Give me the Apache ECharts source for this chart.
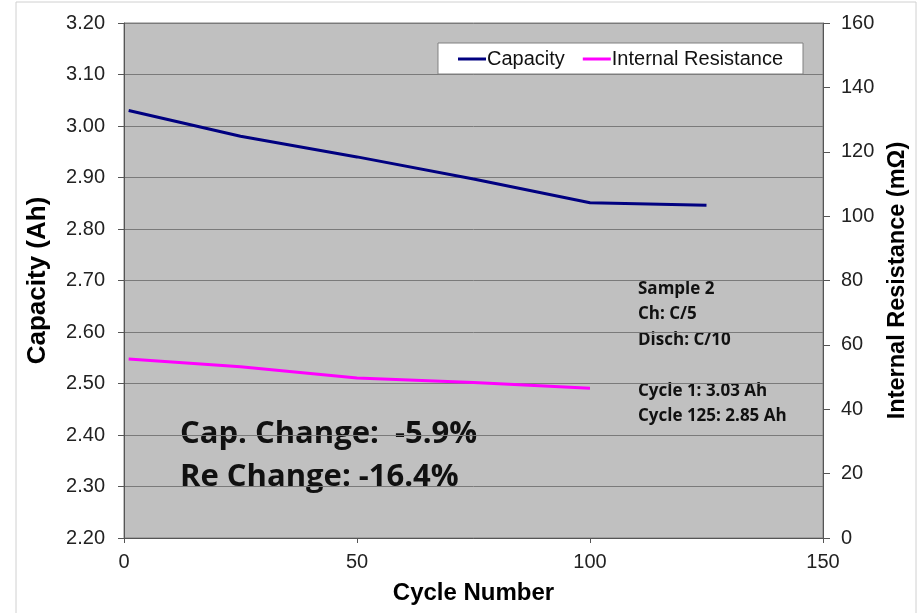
<!DOCTYPE html>
<html>
<head>
<meta charset="utf-8">
<script src="https://cdn.jsdelivr.net/npm/echarts@6/dist/echarts.min.js"></script>
<style>
  html, body { margin: 0; padding: 0; background: #fff; }
  #main { width: 922px; height: 613px; }
</style>
</head>
<body>
<div id="main"></div>
<script>
// data
var cycles = [1, 25, 50, 75, 100, 125];
var capacity = [3.03, 2.98, 2.94, 2.897, 2.851, 2.846];
var irCycles = [1, 25, 50, 75, 100];
var resistance = [55.6, 53.2, 49.7, 48.3, 46.5];
var notes = ["Sample 2", "Ch: C/5", "Disch: C/10", "", "Cycle 1: 3.03 Ah", "Cycle 125: 2.85 Ah"];
var changes = ["Cap. Change:  -5.9%", "Re Change: -16.4%"];

var capData = cycles.map(function (c, i) { return [c, capacity[i]]; });
var irData = irCycles.map(function (c, i) { return [c, resistance[i]]; });

var axisFont = { fontFamily: "Liberation Sans", fontSize: 20, color: "#222" };
var nameFont = { fontFamily: "Liberation Sans", fontWeight: "bold", color: "#000" };

var myChart = echarts.init(document.getElementById("main"));
myChart.setOption({
  animation: false,
  backgroundColor: "#fff",
  grid: {
    left: 124,
    right: 99,
    top: 23,
    bottom: 75,
    show: true,
    backgroundColor: "#c0c0c0",
    borderColor: "#808080",
    borderWidth: 1,
  },
  legend: {
    right: 119,
    top: 43,
    itemWidth: 28,
    itemHeight: 3,
    itemGap: 18,
    padding: [6, 20, 5, 20],
    backgroundColor: "#fff",
    borderColor: "#808080",
    borderWidth: 1,
    borderRadius: 0,
    textStyle: { fontFamily: "Liberation Sans", fontSize: 20, color: "#111", padding: [0, 0, 0, -4] },
    data: [
      { name: "Capacity", icon: "rect" },
      { name: "Internal Resistance", icon: "rect" },
    ],
  },
  xAxis: {
    type: "value",
    min: 0,
    max: 150,
    interval: 50,
    name: "Cycle Number",
    nameLocation: "middle",
    nameGap: 43,
    nameTextStyle: Object.assign({ fontSize: 24 }, nameFont),
    axisLine: { show: true, lineStyle: { color: "#555" } },
    axisTick: { show: true, length: 5, lineStyle: { color: "#555" } },
    axisLabel: Object.assign({ margin: 14 }, axisFont),
    splitLine: { show: false },
  },
  yAxis: [
    {
      type: "value",
      min: 2.2,
      max: 3.2,
      interval: 0.1,
      name: "Capacity (Ah)",
      nameLocation: "middle",
      nameGap: 73,
      nameTextStyle: Object.assign({ fontSize: 26 }, nameFont),
      axisLine: { show: true, lineStyle: { color: "#555" } },
      axisTick: { show: true, length: 6, lineStyle: { color: "#555" } },
      axisLabel: Object.assign({ margin: 19, formatter: function (v) { return v.toFixed(2); } }, axisFont),
      splitLine: { show: true, lineStyle: { color: "#7a7a7a", width: 1 } },
    },
    {
      type: "value",
      min: 0,
      max: 160,
      interval: 20,
      name: "Internal Resistance (mΩ)",
      nameLocation: "middle",
      nameGap: 58,
      nameTextStyle: Object.assign({ fontSize: 23.5 }, nameFont),
      axisLine: { show: true, lineStyle: { color: "#555" } },
      axisTick: { show: true, length: 7, lineStyle: { color: "#555" } },
      axisLabel: Object.assign({ margin: 18 }, axisFont),
      splitLine: { show: false },
    },
  ],
  series: [
    {
      name: "Capacity",
      type: "line",
      yAxisIndex: 0,
      data: capData,
      symbol: "none",
      color: "#000080",
      lineStyle: { color: "#000080", width: 3 },
    },
    {
      name: "Internal Resistance",
      type: "line",
      yAxisIndex: 1,
      data: irData,
      symbol: "none",
      color: "#ff00ff",
      lineStyle: { color: "#ff00ff", width: 3 },
    },
  ],
  graphic: [
    {
      type: "rect",
      shape: { x: 16, y: 2, width: 900, height: 640 },
      style: { fill: null, stroke: "#d0d0d0", lineWidth: 1 },
      silent: true,
      z: -10,
    },
    {
      type: "text",
      left: 638,
      top: 276,
      style: {
        text: notes.join("\n"),
        font: "bold 17px 'Open Sans', 'Noto Sans', sans-serif",
        lineHeight: 25.5,
        fill: "#111",
      },
    },
    {
      type: "text",
      left: 180,
      top: 413,
      style: {
        text: changes.join("\n"),
        font: "bold 31px 'Open Sans', 'Noto Sans', sans-serif",
        lineHeight: 43,
        fill: "#111",
      },
    },
  ],
});
window.addEventListener("resize", function () {
  myChart.resize();
});
</script>
</body>
</html>
